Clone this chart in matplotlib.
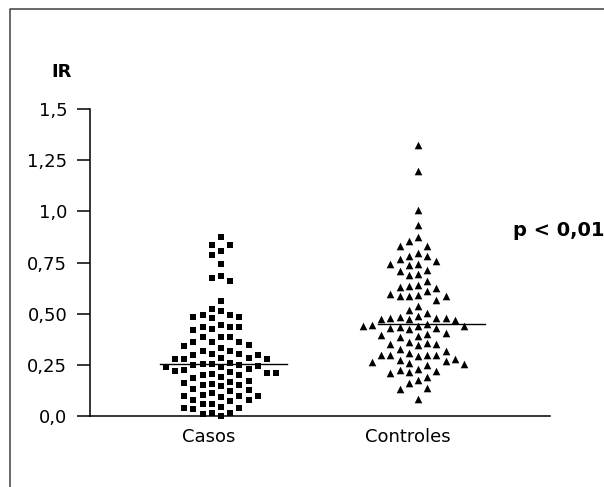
import numpy as np
import matplotlib
matplotlib.use('Agg')
import matplotlib.pyplot as plt
from matplotlib.lines import Line2D

plt.rcParams['font.family'] = ['DejaVu Sans']

# IR values
casos = [0.873, 0.835, 0.835, 0.804, 0.786, 0.745, 0.683, 0.673, 0.662,
         0.564, 0.525,
         0.513, 0.494, 0.493, 0.485, 0.485, 0.478,
         0.445, 0.435, 0.435, 0.435, 0.425, 0.42,
         0.384, 0.384, 0.384,
         0.361, 0.361, 0.361, 0.345, 0.34, 0.33, 0.32, 0.32,
         0.304, 0.304, 0.30, 0.30, 0.285, 0.285,
         0.278, 0.278, 0.278,
         0.26, 0.253, 0.253, 0.25, 0.25, 0.245, 0.24, 0.237, 0.23, 0.225,
         0.22, 0.215, 0.21, 0.21, 0.205, 0.20, 0.20, 0.19, 0.185,
         0.17, 0.165, 0.16, 0.155, 0.15, 0.15, 0.145,
         0.13, 0.125, 0.12, 0.11, 0.105, 0.10, 0.10, 0.10, 0.095,
         0.08, 0.078, 0.075,
         0.06, 0.06, 0.045, 0.04, 0.04, 0.035,
         0.015, 0.013, 0.01, 0.0]

controles = [1.325, 1.195, 1.005, 0.931, 0.876,
             0.854, 0.833, 0.833,
             0.794, 0.784, 0.784, 0.765,
             0.756, 0.745, 0.745, 0.737,
             0.712, 0.707, 0.694, 0.688,
             0.662,
             0.642, 0.634, 0.631, 0.626, 0.613,
             0.598, 0.593, 0.585, 0.585, 0.585, 0.569,
             0.536, 0.52, 0.503,
             0.487, 0.485, 0.48, 0.479, 0.479, 0.476, 0.474, 0.47,
             0.45, 0.445, 0.442, 0.44, 0.44, 0.435, 0.43, 0.43, 0.425,
             0.405, 0.40, 0.395, 0.39, 0.385,
             0.36, 0.355, 0.35, 0.35, 0.345,
             0.325, 0.32, 0.31, 0.30, 0.30, 0.30, 0.30, 0.295,
             0.28, 0.275, 0.27, 0.265, 0.26, 0.255, 0.25,
             0.23, 0.225, 0.22, 0.215, 0.21,
             0.19, 0.176, 0.16,
             0.135, 0.132,
             0.083]

groups = ['Casos', 'Controles']
yticks = [0, 0.25, 0.5, 0.75, 1.0, 1.25, 1.5]
ytick_labels = ['0,0', '0,25', '0,50', '0,75', '1,0', '1,25', '1,5']


def swarm(values, center, dx=0.0467, dy=0.045):
    # simple column swarm: put each point in the nearest free column
    order = np.argsort(values)[::-1]
    placed = {}
    xs = np.zeros(len(values))
    for i in order:
        v = values[i]
        k = 0
        while True:
            for col in ([0] if k == 0 else [-k, k]):
                if all(abs(v - w) >= dy for w in placed.get(col, [])):
                    placed.setdefault(col, []).append(v)
                    xs[i] = center + col * dx
                    break
            else:
                k += 1
                continue
            break
    return xs


fig = plt.figure(figsize=(6.04, 4.87), dpi=100)
ax = fig.add_axes([90 / 604, 1 - 416 / 487, 460 / 604, 307 / 487])

xc = swarm(np.array(casos), 1)
xk = swarm(np.array(controles), 2)
ax.scatter(xc, casos, marker='s', s=22, color='black', linewidths=0, clip_on=False)
ax.scatter(xk, controles, marker='^', s=30, color='black', linewidths=0, clip_on=False)

# median lines
ax.plot([1 - 0.31, 1 + 0.335], [np.median(casos)] * 2, color='black', lw=1)
ax.plot([2 - 0.203, 2 + 0.34], [np.median(controles)] * 2, color='black', lw=1)

ax.set_xlim(0.335, 2.67)
ax.set_ylim(0, 1.5)
ax.set_yticks(yticks)
ax.set_yticklabels(ytick_labels, fontsize=13)
ax.set_xticks([1 - 0.06, 2 - 0.05])
ax.set_xticklabels(groups, fontsize=13)
ax.tick_params(axis='y', length=9.4, width=1.1, pad=7)
ax.tick_params(axis='x', length=0, pad=9)
for s in ['top', 'right']:
    ax.spines[s].set_visible(False)
for s in ['left', 'bottom']:
    ax.spines[s].set_linewidth(1.1)

fig.text(62 / 604, 1 - 72 / 487, 'IR', fontsize=13, fontweight='bold',
         ha='center', va='center')
fig.text(513 / 604, 1 - 231 / 487, 'p < 0,01', fontsize=14, fontweight='bold',
         ha='left', va='center')

# outer frame (open at the right and bottom)
fig.add_artist(Line2D([9.5 / 604, 9.5 / 604, 1], [0, 1 - 9 / 487, 1 - 9 / 487],
                      color='#404040', lw=1.1, transform=fig.transFigure))

fig.savefig('out.png', dpi=100)
